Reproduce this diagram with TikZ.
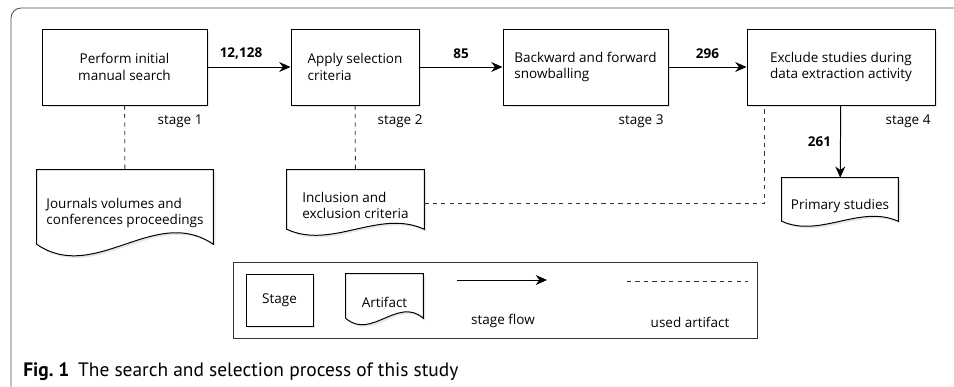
\documentclass[tikz,border=0pt]{standalone}
\usepackage{fontspec}
\setmainfont{Open Sans}
\newfontfamily\capfont{PT Sans}
\usetikzlibrary{arrows.meta, shadows, backgrounds, calc}

\tikzset{
  stagebox/.style={draw, fill=white, line width=0.7pt, minimum height=1.9cm, align=left,
    font=\fontsize{9.6}{12}\selectfont,
    drop shadow={opacity=0.2, shadow xshift=1.5pt, shadow yshift=-1.5pt}},
  artnode/.style={inner sep=0pt, align=left, font=\fontsize{9.6}{12}\selectfont},
  artline/.style={draw, fill=white, line width=0.7pt,
    drop shadow={opacity=0.2, shadow xshift=1.5pt, shadow yshift=-1.5pt}},
  flow/.style={-{Stealth[length=8pt, width=7pt]}, line width=0.7pt},
  used/.style={dashed, line width=0.6pt, black!80},
  numlbl/.style={font=\fontsize{9.6}{12}\selectfont\bfseries},
  stagelbl/.style={font=\fontsize{9.6}{12}\selectfont},
}

% document outline round a named node (0.3cm above its text), #2 = depth of the wave
\newcommand{\artshape}[2]{%
  \draw[artline] ([yshift=0.3cm]#1.north west) -- ([yshift=0.3cm]#1.north east) -- (#1.south east)
    .. controls ($(#1.south east)!0.33!(#1.south west)+(0,#2)$)
    and ($(#1.south east)!0.67!(#1.south west)+(0,-#2)$) .. (#1.south west) -- cycle;}

\begin{document}
\begin{tikzpicture}
        \useasboundingbox (0,0) rectangle (23.85,-9.675);

        % Frame
        \draw[black!70, line width=0.6pt, rounded corners=0.25cm] (0.275,-9.8) -- (0.275,-0.2) -- (24,-0.2);

        % Stages
        \node[stagebox, minimum width=4.125cm, align=center] (stA) at (3.1125,-1.675) {Perform initial\\manual search};
        \node[stagebox, minimum width=3.2cm] (stB) at (8.875,-1.675) {Apply selection\\criteria};
        \node[stagebox, minimum width=4.125cm] (stC) at (14.6375,-1.675) {Backward and forward\\snowballing};
        \node[stagebox, minimum width=4.7cm] (stD) at (21.025,-1.675) {Exclude studies during\\data extraction activity};

        % Stage labels
        \node[stagelbl, anchor=north east] (lbA) at ([yshift=-0.1cm]stA.south east) {stage 1};
        \node[stagelbl, anchor=north east] (lbB) at ([xshift=0.2cm, yshift=-0.1cm]stB.south east) {stage 2};
        \node[stagelbl, anchor=north east] (lbC) at ([yshift=-0.1cm]stC.south east) {stage 3};
        \node[stagelbl, anchor=north east] (lbD) at ([yshift=-0.1cm]stD.south east) {stage 4};

        % Artifacts
        \node[artnode, minimum width=4.4cm, minimum height=1.55cm] (artA) at (3.125,-5.325) {Journals volumes and\\conferences proceedings};
        \node[artnode, minimum width=3.425cm, minimum height=1.175cm] (artB) at (8.8875,-5.1375) {Inclusion and\\exclusion criteria};
        \node[artnode, minimum width=2.9cm, minimum height=0.775cm] (artC) at (21.0,-5.1375) {Primary studies};
        \begin{scope}[on background layer]
          \artshape{artA}{1.0}
          \artshape{artB}{0.52}
          \artshape{artC}{0.43}
        \end{scope}

        % Stage flow
        \draw[flow] (stA) -- (stB) node[numlbl, midway, above=2pt, xshift=-0.2cm] {12,128};
        \draw[flow] (stB) -- (stC) node[numlbl, midway, above=2pt] {85};
        \draw[flow] (stC) -- (stD) node[numlbl, midway, above=2pt] {296};
        \draw[flow, shorten >=0.3cm] (stD) -- (artC) node[numlbl, midway, left=3pt, yshift=0.15cm] {261};

        % Used artifacts
        \coordinate (useD) at ([xshift=0.45cm]stD.south west);
        \draw[used, shorten >=0.3cm] (stA) -- (artA);
        \draw[used, shorten >=0.3cm] (stB) -- (artB);
        \draw[used] ([yshift=0.05cm]artB.east) -| (useD);

        % Legend
        \node[draw, black!80, line width=0.7pt, minimum width=13.1cm, minimum height=1.9cm] (legend) at (12.375,-7.5) {};
        \node[stagebox, minimum width=1.675cm, minimum height=1.3cm, align=center] (legStage) at (6.9875,-7.5) {Stage};
        \node[artnode, minimum width=1.925cm, minimum height=0.8cm, align=center] (legArt) at (9.6125,-7.55) {Artifact};
        \begin{scope}[on background layer]
          \artshape{legArt}{0.56}
        \end{scope}
        \coordinate (legFlowA) at (11.425,-7.0);
        \coordinate (legFlowB) at (13.675,-7.0);
        \draw[flow] (legFlowA) -- (legFlowB);
        \node[stagelbl] (legFlowTxt) at (12.575,-8.025) {stage flow};
        \coordinate (legUseA) at (15.675,-7.025);
        \coordinate (legUseB) at (18.7,-7.025);
        \draw[used] (legUseA) -- (legUseB);
        \node[stagelbl] (legUseTxt) at (17.25,-8.05) {used artifact};

        % Caption
        \node[anchor=west, inner sep=0pt, font=\capfont\fontsize{13.8}{16}\selectfont] (cap) at (0.575,-9.3) {\textbf{Fig.~1}\hspace{0.45em}The search and selection process of this study};
\end{tikzpicture}
\end{document}
